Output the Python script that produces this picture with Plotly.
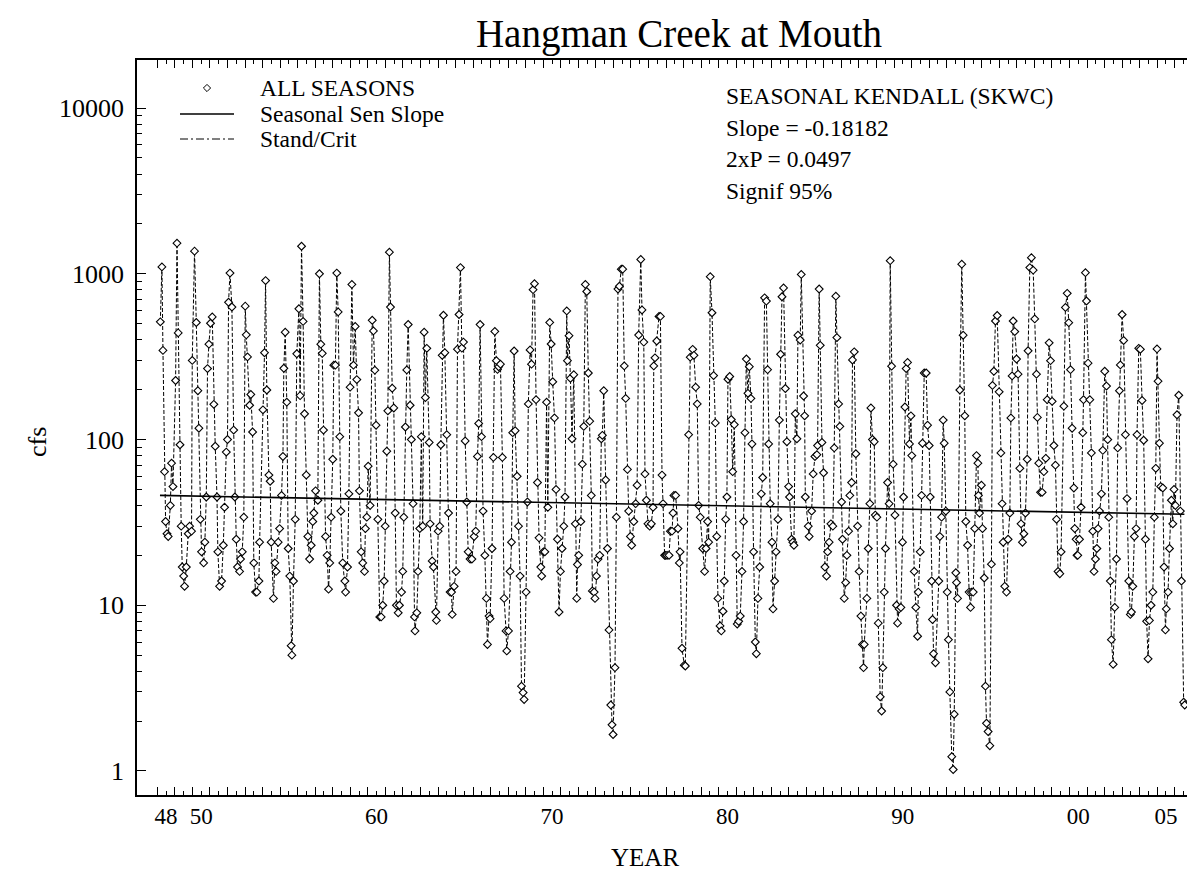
import plotly.graph_objects as go

# flow samples (decimal year, cfs)
year_a = [1948.17, 1948.26, 1948.32, 1948.41, 1948.47, 1948.55, 1948.62, 1948.74, 1948.81, 1948.89,
          1949.04, 1949.12, 1949.19, 1949.29, 1949.36, 1949.42, 1949.50, 1949.55, 1949.65, 1949.76,
          1949.84, 1949.95, 1949.99, 1950.12, 1950.22, 1950.31, 1950.37, 1950.45, 1950.52, 1950.64,
          1950.71, 1950.79, 1950.86, 1950.94, 1951.03, 1951.13, 1951.22, 1951.30, 1951.40, 1951.45,
          1951.55, 1951.66, 1951.76, 1951.83, 1951.93, 1952.00, 1952.06, 1952.14, 1952.25, 1952.35,
          1952.42, 1952.50, 1952.57, 1952.69, 1952.74, 1952.84, 1952.93, 1953.01, 1953.07, 1953.14,
          1953.26, 1953.33, 1953.43, 1953.50, 1953.60, 1953.67, 1953.79, 1953.83, 1954.02, 1954.11,
          1954.17, 1954.24, 1954.36, 1954.43, 1954.49, 1954.62, 1954.70, 1954.77, 1954.89, 1954.97,
          1955.08, 1955.16, 1955.21, 1955.29, 1955.38, 1955.46, 1955.55, 1955.63, 1955.67, 1955.76,
          1955.86, 1955.95, 1956.07, 1956.14, 1956.22, 1956.31, 1956.39, 1956.49, 1956.58, 1956.68,
          1956.77, 1956.86, 1956.92, 1957.02, 1957.15, 1957.24, 1957.32, 1957.40, 1957.47, 1957.59,
          1957.68, 1957.76, 1957.83, 1957.91, 1958.00, 1958.06, 1958.15, 1958.23, 1958.31, 1958.40,
          1958.46, 1958.57, 1958.69, 1958.73, 1958.84, 1958.92, 1958.99, 1959.09, 1959.18, 1959.28,
          1959.37, 1959.47, 1959.52, 1959.62, 1959.71, 1959.81, 1959.86, 1959.94, 1960.02, 1960.13,
          1960.25, 1960.32, 1960.40, 1960.47, 1960.57, 1960.68, 1960.76, 1960.85, 1960.93, 1960.99,
          1961.08, 1961.14, 1961.23, 1961.29, 1961.39, 1961.48, 1961.56, 1961.63, 1961.73, 1961.80,
          1961.92, 1961.99, 1962.05, 1962.14, 1962.22, 1962.30, 1962.41, 1962.48, 1962.58, 1962.66,
          1962.69, 1962.79, 1962.86, 1962.96, 1963.05, 1963.13, 1963.21, 1963.28, 1963.36]
cfs_a = [513, 1100, 345, 64, 32, 27, 26, 40, 72, 52,
         227, 1530, 440, 93, 30, 17, 15, 13, 17, 27,
         30, 28, 300, 1370, 508, 197, 117, 33, 21, 18,
         24, 45, 268, 376, 503, 549, 163, 91, 45, 21,
         13, 14, 23, 39, 84, 100, 673, 1010, 630, 114,
         45, 25, 17, 16, 19, 21, 34, 638, 428, 315,
         161, 187, 111, 18, 12, 12, 14, 24, 151, 334,
         910, 199, 61, 56, 24, 11, 18, 16, 24, 29,
         46, 79, 269, 444, 168, 22, 15, 5.7, 5.0, 14,
         33, 329, 615, 184, 1466, 516, 143, 61, 26, 19,
         23, 32, 36, 49, 43, 1000, 376, 331, 114, 26,
         20, 12.5, 18, 34, 76, 281, 281, 1010, 589, 104,
         37, 18, 14, 12, 17, 47, 207, 863, 281, 481,
         230, 145, 49, 21, 18, 16, 29, 34, 69, 40,
         524, 452, 262, 122, 33, 8.5, 8.5, 10, 14, 30,
         85, 149, 1350, 630, 204, 155, 36, 10, 9, 10,
         12, 16, 34, 119, 263, 494, 161, 100, 41, 8.5,
         7.0, 9, 16, 29, 104, 30, 444, 179, 355]

year_b = [1963.50, 1963.55, 1963.67, 1963.74, 1963.87, 1963.91, 1964.01, 1964.10, 1964.16, 1964.24,
          1964.31, 1964.39, 1964.50, 1964.60, 1964.69, 1964.77, 1964.81, 1964.92, 1965.03, 1965.11,
          1965.20, 1965.28, 1965.36, 1965.45, 1965.55, 1965.64, 1965.72, 1965.83, 1965.93, 1966.06,
          1966.15, 1966.25, 1966.32, 1966.40, 1966.48, 1966.57, 1966.67, 1966.76, 1966.82, 1966.91,
          1966.97, 1967.08, 1967.16, 1967.24, 1967.33, 1967.39, 1967.46, 1967.56, 1967.67, 1967.77,
          1967.88, 1967.92, 1968.02, 1968.11, 1968.19, 1968.26, 1968.34, 1968.40, 1968.51, 1968.59,
          1968.68, 1968.76, 1968.85, 1968.91, 1969.02, 1969.10, 1969.15, 1969.25, 1969.33, 1969.42,
          1969.50, 1969.59, 1969.67, 1969.76, 1969.86, 1969.91, 1970.01, 1970.09, 1970.19, 1970.26]
cfs_b = [96, 31, 18.5, 17, 9.1, 8.1, 28, 30, 93, 322,
         562, 334, 107, 36, 12, 12, 8.8, 13, 16, 351,
         568, 1090, 356, 387, 98, 42, 21, 19, 19, 26,
         28, 79, 125, 494, 104, 37, 20, 11, 5.8, 8.6,
         8.3, 22, 78, 449, 299, 265, 275, 285, 78, 11,
         7.0, 5.3, 7.0, 16, 24, 110, 342, 113, 60, 30,
         15, 3.25, 2.97, 2.7, 12, 42, 164, 347, 285, 802,
         871, 174, 55, 25.5, 17, 15, 21, 21, 168, 39]

year_c = [1970.37, 1970.45, 1970.54, 1970.64, 1970.73, 1970.81, 1970.90, 1970.98, 1971.07, 1971.17,
          1971.24, 1971.34, 1971.38, 1971.47, 1971.55, 1971.64, 1971.74, 1971.83, 1971.91, 1971.95,
          1972.02, 1972.14, 1972.23, 1972.31, 1972.40, 1972.48, 1972.57, 1972.65, 1972.74, 1972.80,
          1972.90, 1972.95, 1973.03, 1973.12, 1973.22, 1973.31, 1973.37, 1973.45, 1973.56, 1973.66,
          1973.75, 1973.85, 1973.92, 1973.98, 1974.09, 1974.17, 1974.26, 1974.34, 1974.45, 1974.53,
          1974.62, 1974.70, 1974.80, 1974.87, 1974.97, 1975.04, 1975.16, 1975.27, 1975.35, 1975.44,
          1975.56, 1975.63, 1975.73, 1975.80, 1975.88, 1975.97, 1976.07, 1976.16, 1976.26, 1976.30,
          1976.37, 1976.47, 1976.60, 1976.68, 1976.77, 1976.83, 1976.92, 1976.98, 1977.06, 1977.17,
          1977.25, 1977.34, 1977.40, 1977.45, 1977.55]
cfs_c = [509, 377, 223, 135, 50, 25, 9.1, 16, 22, 30,
         45, 597, 299, 423, 234, 101, 246, 31, 11, 17.6,
         20, 32, 71, 120, 863, 782, 252, 129, 46, 12.2,
         12, 11, 15, 19, 20, 101, 106, 197, 57, 22,
         7.1, 2.5, 1.9, 1.66, 4.2, 34, 809, 841, 1066, 1066,
         278, 177, 66, 37, 26, 23, 32, 41, 53, 427,
         1220, 605, 387, 62, 43, 31, 30, 31, 39, 278,
         311, 393, 553, 553, 61, 41, 20, 20, 20, 20,
         28, 28, 36, 46, 46]

year_d = [1977.68, 1977.76, 1977.80, 1977.91, 1978.04, 1978.10, 1978.29, 1978.38, 1978.52, 1978.59,
          1978.69, 1978.78, 1978.86, 1978.95, 1979.09, 1979.20, 1979.28, 1979.37, 1979.43, 1979.52,
          1979.62, 1979.71, 1979.81, 1979.89, 1979.96, 1980.08, 1980.15, 1980.25, 1980.32, 1980.40,
          1980.47, 1980.53, 1980.63, 1980.72, 1980.80, 1980.89, 1980.99, 1981.06, 1981.14, 1981.23,
          1981.33, 1981.42, 1981.50, 1981.58, 1981.67, 1981.75, 1981.84, 1981.90, 1981.99, 1982.09,
          1982.15, 1982.24, 1982.34, 1982.43, 1982.51, 1982.62, 1982.72, 1982.79, 1982.85, 1982.94,
          1983.04, 1983.10, 1983.19, 1983.27, 1983.38, 1983.46, 1983.53, 1983.61, 1983.70, 1983.80,
          1983.89, 1983.99, 1984.04, 1984.16, 1984.23, 1984.29, 1984.37, 1984.46, 1984.52, 1984.65,
          1984.71, 1984.84, 1984.90, 1984.94]
cfs_d = [29, 18, 21, 5.5, 4.35, 4.3, 107, 314, 350, 322,
         207, 164, 40, 34, 22, 16, 22, 32, 24, 961,
         582, 243, 126, 26, 11, 7.5, 7.0, 9.2, 14, 33,
         45, 231, 240, 132, 64, 123, 20, 7.7, 8.0, 8.6,
         16, 32, 110, 306, 190, 275, 177, 94, 21, 6.0,
         5.1, 11, 17, 47, 59, 716, 684, 264, 94, 41,
         24, 9.5, 14, 21, 33, 131, 327, 727, 822, 203,
         97, 52, 45, 25, 24, 23, 143, 101, 426, 398,
         991, 183, 139, 45]

year_e = [1985.11, 1985.16, 1985.30, 1985.39, 1985.49, 1985.60, 1985.64, 1985.73, 1985.79, 1985.89,
          1985.98, 1986.06, 1986.15, 1986.21, 1986.30, 1986.40, 1986.51, 1986.59, 1986.68, 1986.74,
          1986.84, 1986.91, 1987.01, 1987.06, 1987.16, 1987.24, 1987.31, 1987.41, 1987.48, 1987.58,
          1987.63, 1987.73, 1987.82, 1987.92, 1988.01, 1988.11, 1988.20, 1988.26, 1988.30, 1988.45,
          1988.53, 1988.62, 1988.68, 1988.77, 1988.87, 1988.93, 1989.02, 1989.10, 1989.21, 1989.29,
          1989.36, 1989.44, 1989.51, 1989.63, 1989.72, 1989.78, 1989.86, 1989.95, 1990.05, 1990.14,
          1990.20, 1990.29, 1990.39, 1990.48, 1990.54, 1990.62, 1990.69, 1990.77, 1990.88, 1990.96,
          1991.01, 1991.15, 1991.24, 1991.34, 1991.38, 1991.49, 1991.57, 1991.62, 1991.72, 1991.83,
          1991.91, 1992.00, 1992.06, 1992.14, 1992.19, 1992.25]
cfs_e = [30, 26, 37, 62, 79, 81, 92, 809, 370, 96,
         63, 17, 15, 21, 24, 31, 30, 89, 733, 412,
         164, 120, 42, 25, 11, 13.7, 20, 28, 46, 55,
         302, 338, 82, 30, 16, 8.6, 5.8, 4.2, 5.8, 11,
         22, 41, 155, 100, 97, 35, 34, 7.8, 2.8, 2.3,
         4.2, 12, 22, 55, 41, 1200, 277, 71, 35, 10,
         7.8, 9.5, 9.7, 24, 45, 157, 268, 292, 94, 139,
         80, 16, 9.7, 6.5, 12, 21, 46, 95, 252, 252,
         122, 92, 45, 14, 8.2, 5.1]

year_f = [1992.36, 1992.55, 1992.61, 1992.71, 1992.80, 1992.86, 1992.95, 1993.03, 1993.10, 1993.18,
          1993.29, 1993.37, 1993.43, 1993.52, 1993.56, 1993.62, 1993.75, 1993.86, 1993.94, 1994.03,
          1994.09, 1994.19, 1994.28, 1994.36, 1994.41, 1994.51, 1994.60, 1994.70, 1994.78, 1994.81,
          1994.87, 1994.98, 1995.04, 1995.14, 1995.21, 1995.27, 1995.36, 1995.46, 1995.55, 1995.61,
          1995.69, 1995.78, 1995.88, 1995.99, 1996.09, 1996.16, 1996.22, 1996.31, 1996.41, 1996.50,
          1996.60, 1996.66, 1996.73, 1996.79, 1996.88, 1996.98, 1997.07, 1997.17, 1997.24, 1997.32,
          1997.40, 1997.49, 1997.59, 1997.64, 1997.74, 1997.83, 1997.93, 1998.02, 1998.12, 1998.17,
          1998.25, 1998.35, 1998.44, 1998.54, 1998.65, 1998.73, 1998.84, 1998.92, 1999.01, 1999.11,
          1999.20, 1999.26, 1999.35, 1999.45, 1999.52, 1999.68, 1999.77]
cfs_f = [4.5, 14, 26, 34, 131, 95, 37, 12, 6.2, 3.0,
         1.22, 1.02, 2.2, 15.7, 13.7, 11, 199, 1143, 426, 139,
         32, 23, 12, 9.7, 12, 12, 29, 80, 72, 46,
         36, 53, 29, 14.6, 3.25, 1.94, 1.73, 1.42, 17.7, 212,
         258, 519, 560, 194, 83, 41, 24, 13, 12, 25,
         36, 135, 242, 519, 448, 306, 248, 67, 31, 24,
         27, 36, 76, 343, 1090, 1250, 1052, 534, 248, 136,
         72, 48, 48, 64, 77, 174, 383, 299, 170, 92,
         70, 33, 16, 15.5, 21, 159, 627]

year_g = [1999.87, 1999.96, 2000.06, 2000.15, 2000.25, 2000.30, 2000.38, 2000.43, 2000.47, 2000.57,
          2000.66, 2000.76, 2000.80, 2000.91, 2000.97, 2001.06, 2001.16, 2001.25, 2001.33, 2001.40,
          2001.48, 2001.56, 2001.63, 2001.71, 2001.82, 2001.90, 2002.01, 2002.11, 2002.18, 2002.24,
          2002.33, 2002.39, 2002.49, 2002.58, 2002.68, 2002.75, 2002.85, 2002.90, 2003.00, 2003.09,
          2003.19, 2003.28, 2003.38, 2003.47, 2003.53, 2003.61, 2003.70, 2003.80, 2003.85, 2003.95,
          2004.04, 2004.14, 2004.23, 2004.33, 2004.40, 2004.48, 2004.56, 2004.65, 2004.75, 2004.84,
          2004.92, 2004.99, 2005.05, 2005.13, 2005.20, 2005.32, 2005.39, 2005.47, 2005.52, 2005.62,
          2005.70, 2005.81, 2005.89, 2005.96, 2006.04, 2006.13, 2006.23, 2006.32, 2006.38, 2006.51,
          2006.57]
cfs_g = [762, 507, 264, 117, 51, 29, 25, 20, 20, 25,
         39, 110, 174, 1016, 685, 289, 174, 83, 28, 16,
         19, 22, 29, 37, 47, 86, 258, 210, 100, 34,
         14, 6.2, 4.4, 9.7, 19, 89, 197, 282, 568, 396,
         107, 44, 14, 8.8, 9.1, 13, 26, 29, 107, 355,
         350, 172, 99, 25, 8.0, 4.75, 8.1, 10, 12, 34,
         67, 352, 225, 95, 52, 51, 17, 7.1, 9.5, 12,
         22, 43, 31, 50, 40, 141, 185, 37, 14, 2.6,
         2.5]

# seasonal Sen slope line end points
sen_year = [1948.15, 2006.55]
sen_cfs = [46.0, 35.4]

# axis labels
x_label_years = [1948, 1950, 1960, 1970, 1980, 1990, 2000, 2005]
x_label_text = ["48", "50", "60", "70", "80", "90", "00", "05"]
y_tick_vals = [1, 10, 100, 1000, 10000]
y_tick_text = ["1", "10", "100", "1000", "10000"]

legend_labels = ["ALL SEASONS", "Seasonal Sen Slope", "Stand/Crit"]
stats_lines = ["SEASONAL KENDALL (SKWC)", "Slope = -0.18182", "2xP = 0.0497", "Signif 95%"]

FONT = "Liberation Serif"

# the page puts the figure 8px in from the top-left corner, so the figure is
# 8px smaller than the window; positions below are window pixels
W, H = 1191, 862
PL, PR, PT, PB = 137, 1187, 60, 795


def px(x):
    return (x - PL) / (PR - PL)


def py(y):
    return (PB - y) / (PB - PT)


years = year_a + year_b + year_c + year_d + year_e + year_f + year_g
cfs = cfs_a + cfs_b + cfs_c + cfs_d + cfs_e + cfs_f + cfs_g

fig = go.Figure()

# dashed connector between samples
fig.add_trace(go.Scatter(x=years, y=cfs, mode="lines",
                         line=dict(color="black", width=1, dash="4px,2px"),
                         showlegend=False, hoverinfo="skip"))
fig.add_trace(go.Scatter(x=years, y=cfs, mode="markers", name=legend_labels[0],
                         showlegend=False,
                         marker=dict(symbol="diamond", size=6, color="white",
                                     line=dict(color="black", width=1.1))))
fig.add_trace(go.Scatter(x=sen_year, y=sen_cfs, mode="lines", name=legend_labels[1],
                         showlegend=False, line=dict(color="black", width=1.6)))

# year ticks: long at year boundaries, short mid-year carrying the labels
half_years = [y + 0.5 for y in range(1948, 2007)]
half_text = []
for hy in half_years:
    yr = int(hy - 0.5)
    half_text.append(x_label_text[x_label_years.index(yr)] if yr in x_label_years else "")

minor_y = [m * 10 ** d for d in range(0, 4) for m in range(2, 10)]

fig.update_layout(
    width=W, height=H,
    margin=dict(l=PL - 8, r=W + 8 - PR, t=PT - 8, b=H + 8 - PB),
    paper_bgcolor="white", plot_bgcolor="white",
    font=dict(family=FONT, size=23.5, color="black"),
    title=dict(text="Hangman Creek at Mouth", x=(679 - 8) / W, xanchor="center",
               y=1 - (33 - 8) / H, yanchor="middle", font=dict(family=FONT, size=39, color="black")),
    xaxis=dict(range=[1946.84, 2006.7], showgrid=False, zeroline=False,
               showline=True, linecolor="black", linewidth=1.5, mirror="ticks",
               tickmode="array", tickvals=half_years, ticktext=half_text,
               ticks="inside", ticklen=4, tickwidth=1, tickcolor="black",
               minor=dict(tickmode="array", tickvals=list(range(1948, 2007)),
                          ticks="inside", ticklen=8, tickwidth=1, tickcolor="black"),
               tickfont=dict(family=FONT, size=23)),
    yaxis=dict(type="log", range=[-0.145, 4.29], showgrid=False, zeroline=False,
               showline=True, linecolor="black", linewidth=1.5,
               tickmode="array", tickvals=y_tick_vals, ticktext=y_tick_text,
               ticks="inside", ticklen=9, tickwidth=1, tickcolor="black",
               ticklabelstandoff=6,
               minor=dict(tickmode="array", tickvals=minor_y,
                          ticks="inside", ticklen=5, tickwidth=1, tickcolor="black"),
               tickfont=dict(family=FONT, size=26)),
    showlegend=False,
)

# axis titles
fig.add_annotation(text="YEAR", x=px(645), y=py(858), xref="paper", yref="paper",
                   showarrow=False, xanchor="center", yanchor="middle", font=dict(size=25))
fig.add_annotation(text="cfs", x=px(37), y=py(442), xref="paper", yref="paper",
                   showarrow=False, textangle=-90, xanchor="center", yanchor="middle",
                   font=dict(size=26))

# legend drawn in place: sample marks + labels
legend_rows = [88, 114, 139]
dx, dy = 3.6 / (PR - PL), 3.6 / (PB - PT)
cx, cy = px(207), py(legend_rows[0])
fig.add_shape(type="path", xref="paper", yref="paper",
              path=f"M{cx - dx},{cy} L{cx},{cy + dy} L{cx + dx},{cy} L{cx},{cy - dy} Z",
              line=dict(color="black", width=1), fillcolor="white")
fig.add_shape(type="line", xref="paper", yref="paper",
              x0=px(180), x1=px(234), y0=py(legend_rows[1]), y1=py(legend_rows[1]),
              line=dict(color="black", width=1.6))
fig.add_shape(type="line", xref="paper", yref="paper",
              x0=px(180), x1=px(234), y0=py(legend_rows[2]), y1=py(legend_rows[2]),
              line=dict(color="black", width=1, dash="8px,3px,2px,3px"))
for label, row in zip(legend_labels, legend_rows):
    fig.add_annotation(text=label, x=px(258), y=py(row), xref="paper", yref="paper",
                       showarrow=False, xanchor="left", yanchor="middle")

stats_y = [96, 128, 159, 191]
for line, row in zip(stats_lines, stats_y):
    fig.add_annotation(text=line, x=px(724), y=py(row), xref="paper", yref="paper",
                       showarrow=False, xanchor="left", yanchor="middle")

fig.write_html("out.html")
